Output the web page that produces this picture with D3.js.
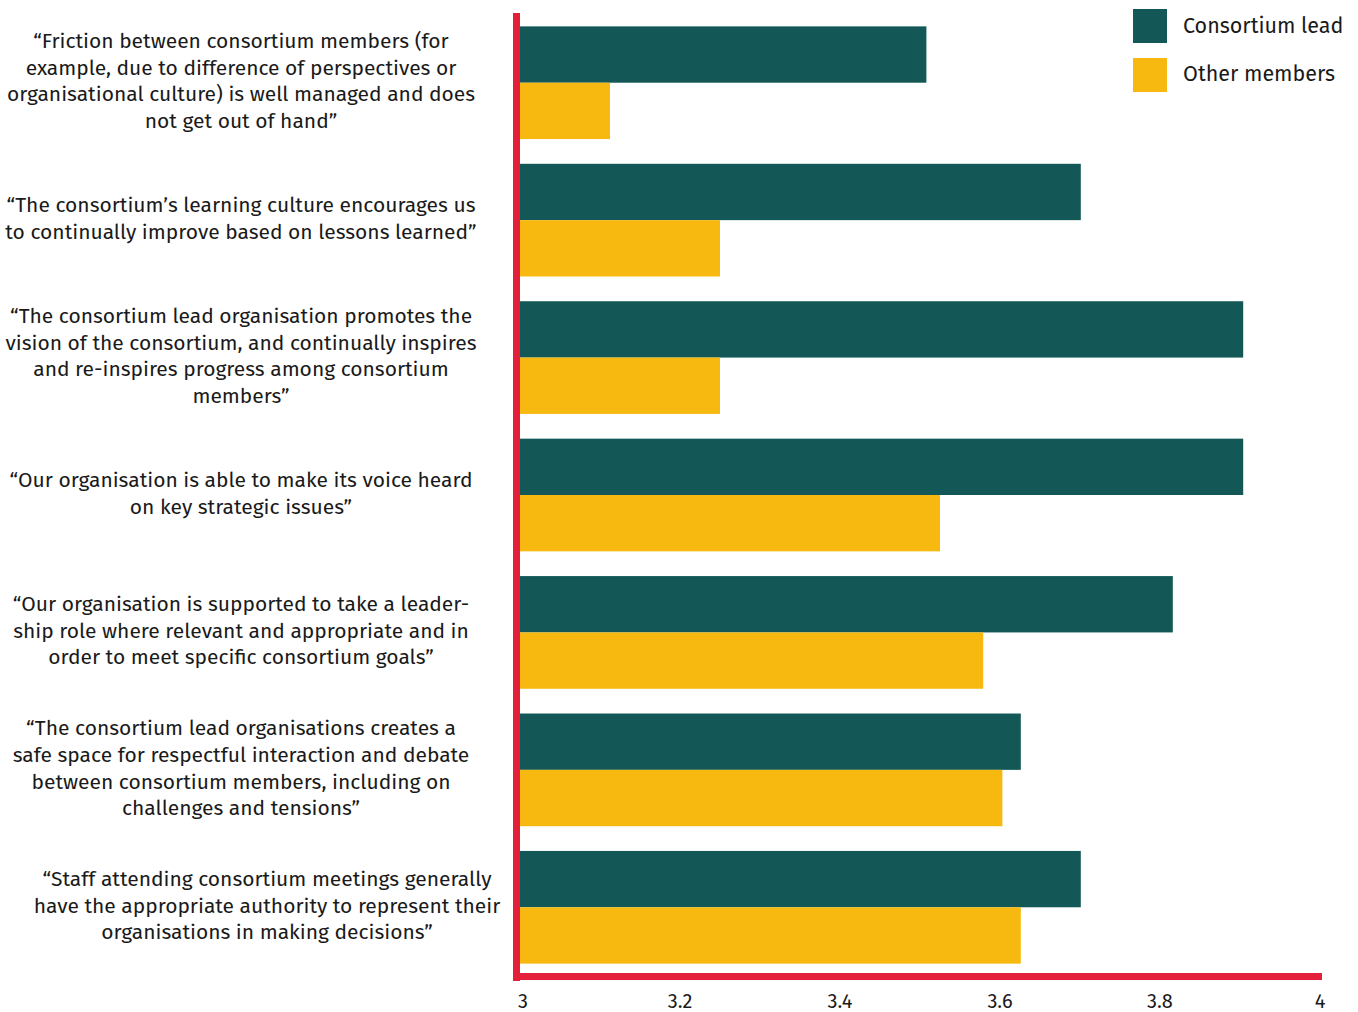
<!DOCTYPE html>
<html><head><meta charset="utf-8">
<script src="https://cdn.jsdelivr.net/npm/d3@7"></script>
<style>body{margin:0;background:#fff}svg{display:block;font-family:"Fira Sans","Noto Sans","Open Sans",sans-serif}</style>
</head><body><svg id="c" width="1358" height="1012"></svg>
<script>
const categories = [
 ["“Friction between consortium members (for","example, due to difference of perspectives or","organisational culture) is well managed and does","not get out of hand”"],
 ["“The consortium’s learning culture encourages us","to continually improve based on lessons learned”"],
 ["“The consortium lead organisation promotes the","vision of the consortium, and continually inspires","and re-inspires progress among consortium","members”"],
 ["“Our organisation is able to make its voice heard","on key strategic issues”"],
 ["“Our organisation is supported to take a leader-","ship role where relevant and appropriate and in","order to meet specific consortium goals”"],
 ["“The consortium lead organisations creates a","safe space for respectful interaction and debate","between consortium members, including on","challenges and tensions”"],
 ["“Staff attending consortium meetings generally","have the appropriate authority to represent their","organisations in making decisions”"]
];
const seriesNames = ["Consortium lead","Other members"];
const leadValues = [3.508, 3.701, 3.904, 3.904, 3.816, 3.626, 3.701];
const otherValues = [3.1125, 3.25, 3.25, 3.525, 3.579, 3.603, 3.626];
const tickValues = [3, 3.2, 3.4, 3.6, 3.8, 4];
const tickLabels = ["3","3.2","3.4","3.6","3.8","4"];
const colors = ["#135857", "#F7B90F"];
const red = "#E31F3A";

const svg = d3.select("#c");
const x = d3.scaleLinear().domain([3,4]).range([520,1320]);
const y = d3.scaleBand().domain(d3.range(categories.length)).range([14,976]).paddingInner(0.18).paddingOuter(0.09);
const sub = d3.scaleBand().domain([0,1]).range([0,y.bandwidth()]);

const series = [leadValues, otherValues];
series.forEach((vals, s) => {
  svg.append("g").selectAll("rect").data(vals).join("rect")
    .attr("x", x(3))
    .attr("y", (d,i) => y(i) + sub(s))
    .attr("width", d => x(d) - x(3))
    .attr("height", sub.bandwidth())
    .attr("fill", colors[s]);
});

// axes lines
svg.append("rect").attr("x", 513).attr("y", 13).attr("width", 7).attr("height", 968).attr("fill", red);
svg.append("rect").attr("x", 513).attr("y", 973).attr("width", 809).attr("height", 7).attr("fill", red);

// tick labels
svg.append("g").selectAll("text").data(tickValues).join("text")
  .attr("x", (d,i) => x(d) + (i===0 ? 3 : 0))
  .attr("y", 1001)
  .attr("dy", "0.35em")
  .attr("text-anchor", "middle")
  .attr("font-size", 20)
  .attr("fill", "#1a1a1a")
  .text((d,i) => tickLabels[i]);

// category labels
const labelX = [241,241,241,241,241,241,267];
const lh = 26.6;
categories.forEach((lines, i) => {
  const cy = y(i) + y.bandwidth()/2 - 2;
  const t = svg.append("text")
    .attr("text-anchor", "middle")
    .attr("font-size", 21)
    .attr("fill", "#1a1a1a");
  lines.forEach((ln, k) => {
    t.append("tspan")
      .attr("x", labelX[i])
      .attr("y", cy + (k - (lines.length-1)/2) * lh)
      .attr("dy", "0.35em")
      .text(ln);
  });
});

// legend
const lg = svg.append("g");
seriesNames.forEach((n, i) => {
  lg.append("rect").attr("x", 1133).attr("y", 9 + i*49).attr("width", 34).attr("height", 34).attr("fill", colors[i]);
  lg.append("text").attr("x", 1183).attr("y", 25 + i*48).attr("dy", "0.35em")
    .attr("font-size", 21.5).attr("fill", "#1a1a1a").text(n);
});
</script></body></html>
